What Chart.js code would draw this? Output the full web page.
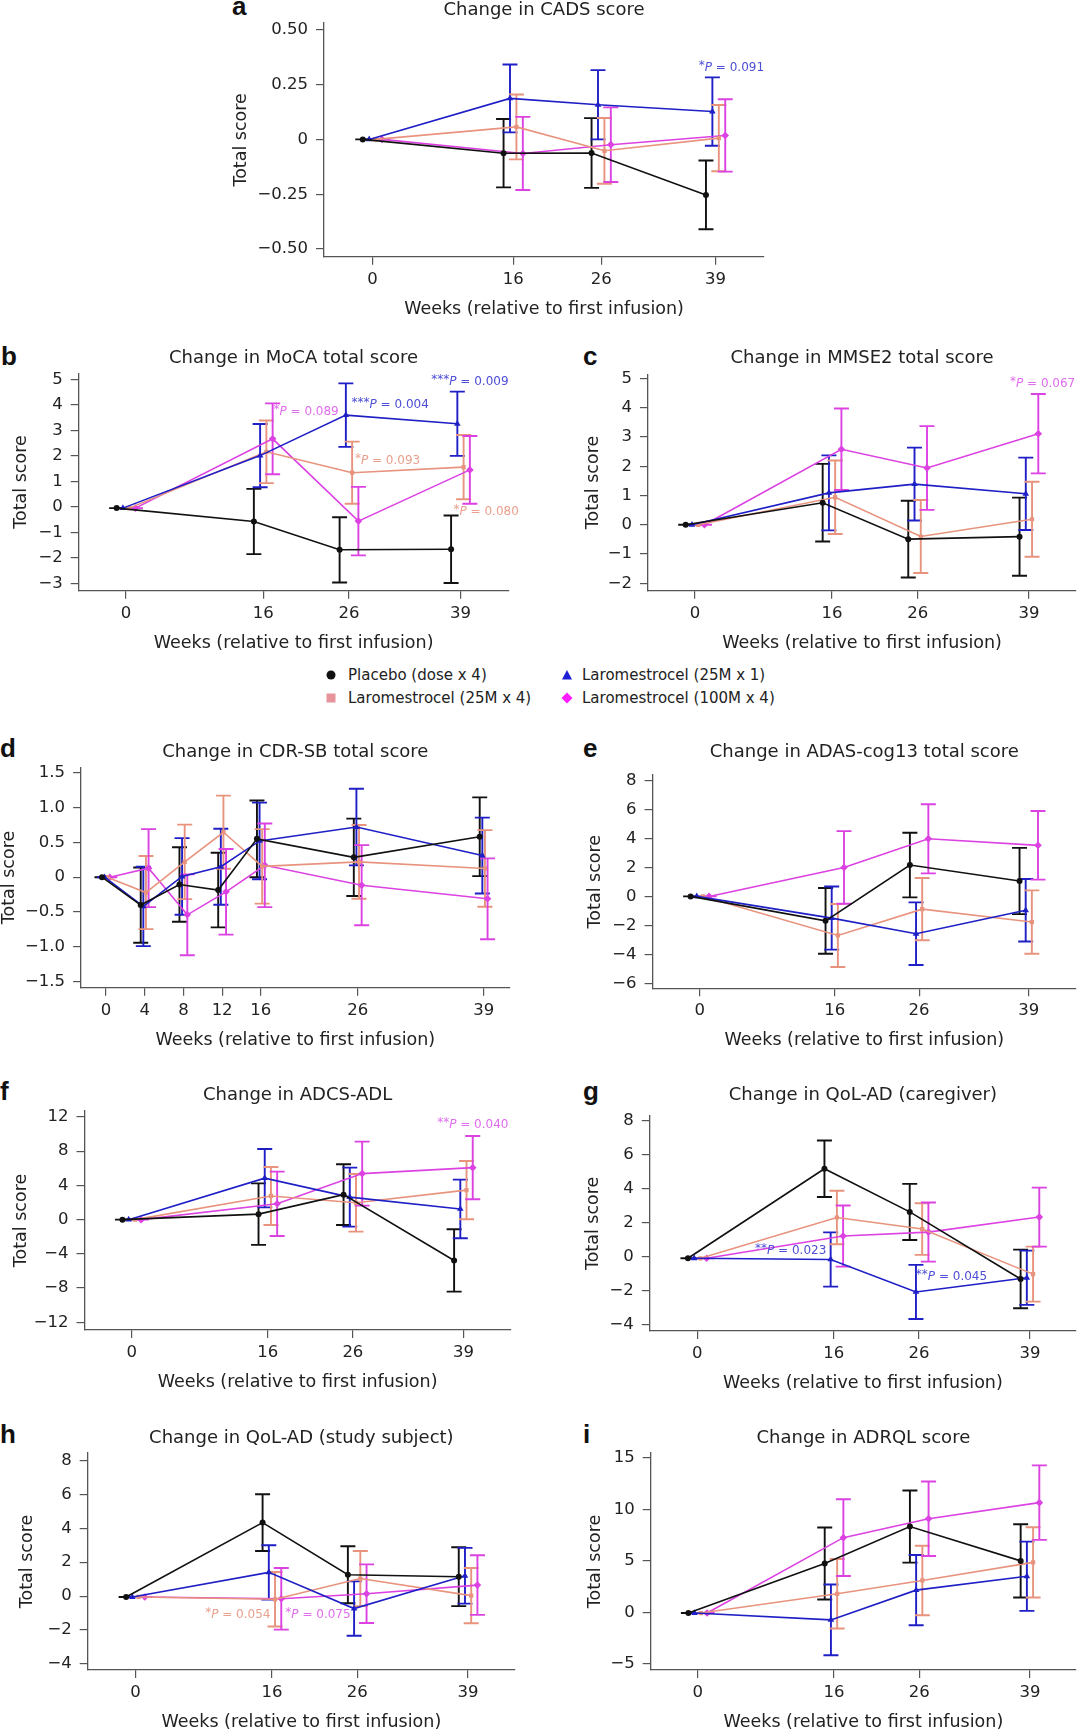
<!DOCTYPE html>
<html>
<head>
<meta charset="utf-8">
<script src="https://cdn.jsdelivr.net/npm/chart.js@4.4.1/dist/chart.umd.min.js"></script>
<style>
  body { margin: 0; background: #fff; }
  #page { position: relative; width: 1080px; height: 1731px; overflow: hidden; font-family: "DejaVu Sans", sans-serif; color: #222; }
  #page canvas { position: absolute; }
  .tag { position: absolute; font: bold 26px "Liberation Sans", Arial, sans-serif; line-height: 26px; color: #111; }
  .item { position: absolute; font-size: 15px; line-height: 18px; white-space: nowrap; }
  .item svg { position: absolute; }
</style>
</head>
<body>
<div id="page"></div>
<script>
// weeks after first infusion
const weeks = [0, 16, 26, 39];
const weeksCdr = [0, 4, 8, 12, 16, 26, 39];

const groups = ["Placebo (dose x 4)", "Laromestrocel (25M x 1)", "Laromestrocel (25M x 4)", "Laromestrocel (100M x 4)"];

// mean change and error, per group: placebo, 25M x 1, 25M x 4, 100M x 4
const cadsPla = [0, -0.063, -0.062, -0.253];
const cadsPlaSe = [0, 0.156, 0.159, 0.157];
const cads1x25 = [0, 0.187, 0.158, 0.127];
const cads1x25Se = [0, 0.155, 0.158, 0.156];
const cads4x25 = [0, 0.057, -0.052, 0.006];
const cads4x25Se = [0, 0.148, 0.150, 0.151];
const cads4x100 = [0, -0.064, -0.024, 0.018];
const cads4x100Se = [0, 0.167, 0.170, 0.165];

const mocaPla = [-0.05, -0.575, -1.686, -1.665];
const mocaPlaSe = [0, 1.28, 1.28, 1.325];
const moca1x25 = [-0.05, 2.01, 3.6, 3.26];
const moca1x25Se = [0, 1.24, 1.245, 1.26];
const moca4x25 = [-0.05, 2.16, 1.34, 1.56];
const moca4x25Se = [0, 1.23, 1.22, 1.26];
const moca4x100 = [-0.05, 2.67, -0.56, 1.45];
const moca4x100Se = [0, 1.39, 1.345, 1.33];

const mmsePla = [0, 0.755, -0.49, -0.405];
const mmsePlaSe = [0, 1.325, 1.31, 1.335];
const mmse1x25 = [0, 1.09, 1.39, 1.06];
const mmse1x25Se = [0, 1.28, 1.245, 1.235];
const mmse4x25 = [0, 0.94, -0.40, 0.19];
const mmse4x25Se = [0, 1.255, 1.245, 1.28];
const mmse4x100 = [0, 2.58, 1.94, 3.11];
const mmse4x100Se = [0, 1.39, 1.43, 1.355];

const cdrPla = [0, -0.40, -0.105, -0.185, 0.55, 0.285, 0.58];
const cdrPlaSe = [0, 0.54, 0.535, 0.535, 0.55, 0.555, 0.565];
const cdr1x25 = [0, -0.42, 0.01, 0.15, 0.52, 0.72, 0.31];
const cdr1x25Se = [0, 0.57, 0.55, 0.545, 0.55, 0.55, 0.545];
const cdr4x25 = [0, -0.22, 0.22, 0.645, 0.155, 0.22, 0.125];
const cdr4x25Se = [0, 0.525, 0.535, 0.525, 0.535, 0.53, 0.55];
const cdr4x100 = [0, 0.13, -0.54, -0.21, 0.17, -0.115, -0.31];
const cdr4x100Se = [0, 0.56, 0.58, 0.615, 0.60, 0.575, 0.58];

const adasPla = [0, -1.69, 2.165, 1.065];
const adasPlaSe = [0, 2.27, 2.235, 2.29];
const adas1x25 = [0, -1.5, -2.58, -0.96];
const adas1x25Se = [0, 2.18, 2.165, 2.16];
const adas4x25 = [0, -2.70, -0.88, -1.77];
const adas4x25Se = [0, 2.18, 2.15, 2.19];
const adas4x100 = [0, 2.0, 3.98, 3.53];
const adas4x100Se = [0, 2.51, 2.385, 2.37];

const adlPla = [0, 0.645, 2.92, -4.77];
const adlPlaSe = [0, 3.6, 3.55, 3.64];
const adl1x25 = [0, 4.85, 2.63, 1.25];
const adl1x25Se = [0, 3.41, 3.45, 3.43];
const adl4x25 = [0, 2.77, 1.97, 3.45];
const adl4x25Se = [0, 3.39, 3.37, 3.41];
const adl4x100 = [0, 1.85, 5.38, 6.08];
const adl4x100Se = [0, 3.76, 3.74, 3.7];

const qolcPla = [-0.1, 5.18, 2.635, -1.32];
const qolcPlaSe = [0, 1.665, 1.655, 1.73];
const qolc1x25 = [-0.1, -0.17, -2.085, -1.25];
const qolc1x25Se = [0, 1.6, 1.595, 1.6];
const qolc4x25 = [-0.1, 2.305, 1.625, -1.035];
const qolc4x25Se = [0, 1.575, 1.525, 1.625];
const qolc4x100 = [-0.1, 1.21, 1.445, 2.33];
const qolc4x100Se = [0, 1.8, 1.745, 1.74];

const qolsPla = [-0.05, 4.33, 1.26, 1.145];
const qolsPlaSe = [0, 1.67, 1.675, 1.735];
const qols1x25 = [-0.05, 1.4, -0.73, 1.2];
const qols1x25Se = [0, 1.6, 1.6, 1.64];
const qols4x25 = [-0.05, -0.185, 1.035, 0.03];
const qols4x25Se = [0, 1.605, 1.625, 1.63];
const qols4x100 = [-0.05, -0.155, 0.145, 0.65];
const qols4x100Se = [0, 1.815, 1.725, 1.755];

const adrqlPla = [-0.05, 4.76, 8.345, 5.015];
const adrqlPlaSe = [0, 3.49, 3.5, 3.555];
const adrql1x25 = [-0.05, -0.715, 2.175, 3.52];
const adrql1x25Se = [0, 3.44, 3.405, 3.36];
const adrql4x25 = [-0.05, 1.82, 3.115, 4.87];
const adrql4x25Se = [0, 3.375, 3.375, 3.41];
const adrql4x100 = [-0.05, 7.27, 9.11, 10.67];
const adrql4x100Se = [0, 3.73, 3.62, 3.62];

// y ticks
const cadsTicks = [-0.5, -0.25, 0, 0.25, 0.5];
const mocaTicks = [-3, -2, -1, 0, 1, 2, 3, 4, 5];
const mmseTicks = [-2, -1, 0, 1, 2, 3, 4, 5];
const cdrTicks = [-1.5, -1, -0.5, 0, 0.5, 1, 1.5];
const adasTicks = [-6, -4, -2, 0, 2, 4, 6, 8];
const adlTicks = [-12, -8, -4, 0, 4, 8, 12];
const qolTicks = [-4, -2, 0, 2, 4, 6, 8];
const adrqlTicks = [-5, 0, 5, 10, 15];

const FONT = '"DejaVu Sans", sans-serif';
Chart.defaults.font.family = FONT;
Chart.defaults.color = "#222";

const colors = ["#111111", "#1f1fc6", "#e8937e", "#dc42e2"];
const noteColors = ["#333333", "#4d4dd6", "#eaa08d", "#e06cee"];
const shapes = ["circle", "triangle", "rect", "rectRot"];
const radii = [3, 3.8, 3, 3.8];

// plot = [left, top, right, bottom] of the axes box on the page, titleY = title centre line
const panels = [
  { tag: "a", tagPos: [232, -7], title: "Change in CADS score", titleY: 10.5, x: weeks, yTicks: cadsTicks, dec: 2,
    mean: [cadsPla, cads1x25, cads4x25, cads4x100], se: [cadsPlaSe, cads1x25Se, cads4x25Se, cads4x100Se],
    plot: [324, 23, 764, 256.7], xr: [-5.5, 44.5], yr: [-0.535, 0.531], yTitleX: 241, dodge: 0.73,
    notes: [{ s: 1, stars: "*", p: "0.091", x: 40.8, y: 0.327 }] },
  { tag: "b", tagPos: [1, 343], title: "Change in MoCA total score", titleY: 358.5, x: weeks, yTicks: mocaTicks, dec: 0,
    mean: [mocaPla, moca1x25, moca4x25, moca4x100], se: [mocaPlaSe, moca1x25Se, moca4x25Se, moca4x100Se],
    plot: [78.7, 373.3, 508.5, 590.7], xr: [-5.52, 44.6], yr: [-3.29, 5.24], yTitleX: 21, dodge: 0.73,
    notes: [
      { s: 3, stars: "*", p: "0.089", x: 21.0, y: 3.74 },
      { s: 1, stars: "***", p: "0.004", x: 30.8, y: 4.0 },
      { s: 1, stars: "***", p: "0.009", x: 40.1, y: 4.92 },
      { s: 2, stars: "*", p: "0.093", x: 30.5, y: 1.82 },
      { s: 2, stars: "*", p: "0.080", x: 42.0, y: -0.18 }] },
  { tag: "c", tagPos: [583, 343], title: "Change in MMSE2 total score", titleY: 358.5, x: weeks, yTicks: mmseTicks, dec: 0,
    mean: [mmsePla, mmse1x25, mmse4x25, mmse4x100], se: [mmsePlaSe, mmse1x25Se, mmse4x25Se, mmse4x100Se],
    plot: [648, 374.3, 1080, 590.7], xr: [-5.5, 44.5], yr: [-2.25, 5.14], yTitleX: 593, dodge: 0.73,
    notes: [{ s: 3, stars: "*", p: "0.067", x: 40.6, y: 4.83 }] },
  { tag: "d", tagPos: [0, 735], title: "Change in CDR-SB total score", titleY: 752.5, x: weeksCdr, yTicks: cdrTicks, dec: 1,
    mean: [cdrPla, cdr1x25, cdr4x25, cdr4x100], se: [cdrPlaSe, cdr1x25Se, cdr4x25Se, cdr4x100Se],
    plot: [81.1, 767.3, 509.5, 987.7], xr: [-2.56, 41.67], yr: [-1.586, 1.577], yTitleX: 9, dodge: 0.27,
    notes: [] },
  { tag: "e", tagPos: [583, 735], title: "Change in ADAS-cog13 total score", titleY: 752.5, x: weeks, yTicks: adasTicks, dec: 0,
    mean: [adasPla, adas1x25, adas4x25, adas4x100], se: [adasPlaSe, adas1x25Se, adas4x25Se, adas4x100Se],
    plot: [652.6, 775, 1078, 988.3], xr: [-5.6, 44.6], yr: [-6.35, 8.39], yTitleX: 595, dodge: 0.73,
    notes: [] },
  { tag: "f", tagPos: [0, 1078], title: "Change in ADCS-ADL", titleY: 1095.5, x: weeks, yTicks: adlTicks, dec: 0,
    mean: [adlPla, adl1x25, adl4x25, adl4x100], se: [adlPlaSe, adl1x25Se, adl4x25Se, adl4x100Se],
    plot: [84.5, 1111, 510.7, 1330], xr: [-5.56, 44.56], yr: [-12.9, 12.7], yTitleX: 21, dodge: 0.73,
    notes: [{ s: 3, stars: "**", p: "0.040", x: 40.1, y: 11.06 }] },
  { tag: "g", tagPos: [583, 1078], title: "Change in QoL-AD (caregiver)", titleY: 1095.5, x: weeks, yTicks: qolTicks, dec: 0,
    mean: [qolcPla, qolc1x25, qolc4x25, qolc4x100], se: [qolcPlaSe, qolc1x25Se, qolc4x25Se, qolc4x100Se],
    plot: [649.8, 1115.7, 1077, 1331], xr: [-5.57, 44.4], yr: [-4.39, 8.31], yTitleX: 593, dodge: 0.73,
    notes: [
      { s: 1, stars: "**", p: "0.023", x: 10.95, y: 0.35 },
      { s: 1, stars: "**", p: "0.045", x: 29.8, y: -1.18 }] },
  { tag: "h", tagPos: [0, 1421], title: "Change in QoL-AD (study subject)", titleY: 1438.5, x: weeks, yTicks: qolTicks, dec: 0,
    mean: [qolsPla, qols1x25, qols4x25, qols4x100], se: [qolsPlaSe, qols1x25Se, qols4x25Se, qols4x100Se],
    plot: [87.7, 1453, 515, 1670], xr: [-5.6, 44.5], yr: [-4.35, 8.43], yTitleX: 27, dodge: 0.73,
    notes: [
      { s: 2, stars: "*", p: "0.054", x: 12.0, y: -1.08 },
      { s: 3, stars: "*", p: "0.075", x: 21.4, y: -1.08 }] },
  { tag: "i", tagPos: [583, 1421], title: "Change in ADRQL score", titleY: 1438.5, x: weeks, yTicks: adrqlTicks, dec: 0,
    mean: [adrqlPla, adrql1x25, adrql4x25, adrql4x100], se: [adrqlPlaSe, adrql1x25Se, adrql4x25Se, adrql4x100Se],
    plot: [650.7, 1453, 1079.7, 1670], xr: [-5.52, 44.4], yr: [-5.58, 15.49], yTitleX: 595, dodge: 0.73,
    notes: [] }
];

const page = document.getElementById("page");

// vertical error bars with caps, drawn under the lines
const errorBars = {
  id: "errorBars",
  beforeDatasetsDraw(chart) {
    const ctx = chart.ctx;
    const xs = chart.scales.x;
    const ys = chart.scales.y;
    chart.data.datasets.forEach((ds) => {
      ctx.save();
      ctx.strokeStyle = ds.borderColor;
      ctx.lineWidth = 1.9;
      ds.data.forEach((p, j) => {
        const e = ds.errors[j];
        const x = xs.getPixelForValue(p.x);
        const top = ys.getPixelForValue(p.y + e);
        const bot = ys.getPixelForValue(p.y - e);
        ctx.beginPath();
        ctx.moveTo(x, top); ctx.lineTo(x, bot);
        ctx.moveTo(x - 7.5, top); ctx.lineTo(x + 7.5, top);
        ctx.moveTo(x - 7.5, bot); ctx.lineTo(x + 7.5, bot);
        ctx.stroke();
      });
      ctx.restore();
    });
  }
};

// P value notes
const pNotes = {
  id: "pNotes",
  afterDatasetsDraw(chart, args, opts) {
    const ctx = chart.ctx;
    const xs = chart.scales.x;
    const ys = chart.scales.y;
    (opts.notes || []).forEach((n) => {
      const plain = "12px " + FONT;
      const ital = "italic 12px " + FONT;
      const rest = " = " + n.p;
      ctx.save();
      ctx.fillStyle = noteColors[n.s];
      ctx.textBaseline = "middle";
      ctx.font = plain;
      const w1 = ctx.measureText(n.stars).width;
      const w3 = ctx.measureText(rest).width;
      ctx.font = ital;
      const w2 = ctx.measureText("P").width;
      let x = xs.getPixelForValue(n.x) - (w1 + w2 + w3) / 2;
      const y = ys.getPixelForValue(n.y);
      ctx.font = plain;
      ctx.fillText(n.stars, x, y - 2);
      x += w1;
      ctx.font = ital;
      ctx.fillText("P", x, y);
      x += w2;
      ctx.font = plain;
      ctx.fillText(rest, x, y);
      ctx.restore();
    });
  }
};

function fmt(v, dec) {
  if (v === 0) return "0";
  return (v < 0 ? "\u2212" : "") + Math.abs(v).toFixed(dec);
}

function buildPanel(pn) {
  const [pl, pt, pr, pb] = pn.plot;
  const left = Math.round(pn.yTitleX - 10.5);
  const top = Math.floor(pn.titleY - 12);
  const right = Math.min(1080, Math.round(pr + 30));
  const bottom = Math.round(pb + 67);

  const tag = document.createElement("div");
  tag.className = "tag";
  tag.textContent = pn.tag;
  tag.style.left = pn.tagPos[0] + "px";
  tag.style.top = pn.tagPos[1] + "px";
  page.appendChild(tag);

  const cv = document.createElement("canvas");
  cv.width = right - left;
  cv.height = bottom - top;
  cv.style.left = left + "px";
  cv.style.top = top + "px";
  cv.style.width = (right - left) + "px";
  cv.style.height = (bottom - top) + "px";
  page.appendChild(cv);

  const yWidth = pl - left;
  const xHeight = bottom - pb;
  const titleTop = pn.titleY - 10.8 - top;
  const titleBottom = pt - top - titleTop - 21.6;

  const datasets = pn.mean.map((m, i) => ({
    label: groups[i],
    data: pn.x.map((w, j) => ({ x: w + (i - 1.5) * pn.dodge, y: m[j] })),
    errors: pn.se[i],
    showLine: true,
    borderColor: colors[i],
    backgroundColor: colors[i],
    borderWidth: 1.6,
    pointStyle: shapes[i],
    pointRadius: radii[i],
    pointBorderWidth: 0,
    tension: 0
  }));

  new Chart(cv, {
    type: "scatter",
    data: { datasets },
    options: {
      responsive: false,
      animation: false,
      events: [],
      layout: { padding: { left: 0, top: 0, bottom: 0, right: right - pr } },
      plugins: {
        legend: { display: false },
        tooltip: { enabled: false },
        title: {
          display: true, text: pn.title, fullSize: false, color: "#222",
          font: { size: 18, weight: "normal" }, padding: { top: titleTop, bottom: titleBottom }
        },
        pNotes: { notes: pn.notes }
      },
      scales: {
        x: {
          type: "linear", min: pn.xr[0], max: pn.xr[1],
          afterBuildTicks: (s) => { s.ticks = pn.x.map((v) => ({ value: v })); },
          afterFit: (s) => { s.height = xHeight; },
          ticks: { autoSkip: false, maxRotation: 0, padding: 5, color: "#222", font: { size: 16.5 }, callback: (v) => String(v) },
          grid: { display: true, drawOnChartArea: false, drawTicks: true, tickLength: 8, color: "#555", lineWidth: 1.2 },
          border: { display: true, color: "#555", width: 1.3 },
          title: { display: true, text: "Weeks (relative to first infusion)", color: "#222", font: { size: 17.5 }, padding: { top: 0, bottom: 4 } }
        },
        y: {
          type: "linear", min: pn.yr[0], max: pn.yr[1],
          afterBuildTicks: (s) => { s.ticks = pn.yTicks.map((v) => ({ value: v })); },
          afterFit: (s) => { s.width = yWidth; },
          ticks: { padding: 8, color: "#222", font: { size: 16.5 }, callback: (v) => fmt(v, pn.dec) },
          grid: { display: true, drawOnChartArea: false, drawTicks: true, tickLength: 8, color: "#555", lineWidth: 1.2 },
          border: { display: true, color: "#555", width: 1.3 },
          title: { display: true, text: "Total score", color: "#222", font: { size: 17.5 }, padding: { top: 0, bottom: 0 } }
        }
      }
    },
    plugins: [errorBars, pNotes]
  });
}

panels.forEach(buildPanel);

// shared legend between panels b-c and d-e
const legendSpots = [[331, 348, 675], [567, 582, 675], [331, 348, 698], [567, 582, 698]];
const legendOrder = [0, 1, 2, 3];
const markerSvg = [
  '<circle cx="6" cy="6" r="4.5" fill="#111"/>',
  '<polygon points="6,1 11,10.5 1,10.5" fill="#1f1fd6"/>',
  '<rect x="1.5" y="1.5" width="9" height="9" fill="#e6939a"/>',
  '<polygon points="6,0.5 11.5,6 6,11.5 0.5,6" fill="#ff1cff"/>'
];
legendOrder.forEach((g, k) => {
  const [mx, tx, cy] = legendSpots[k];
  const item = document.createElement("div");
  item.className = "item";
  item.style.left = tx + "px";
  item.style.top = (cy - 9) + "px";
  item.innerHTML = `<svg width="12" height="12" style="left:${mx - 6 - tx}px; top:3px">${markerSvg[g]}</svg>${groups[g]}`;
  page.appendChild(item);
});
</script>
</body>
</html>
